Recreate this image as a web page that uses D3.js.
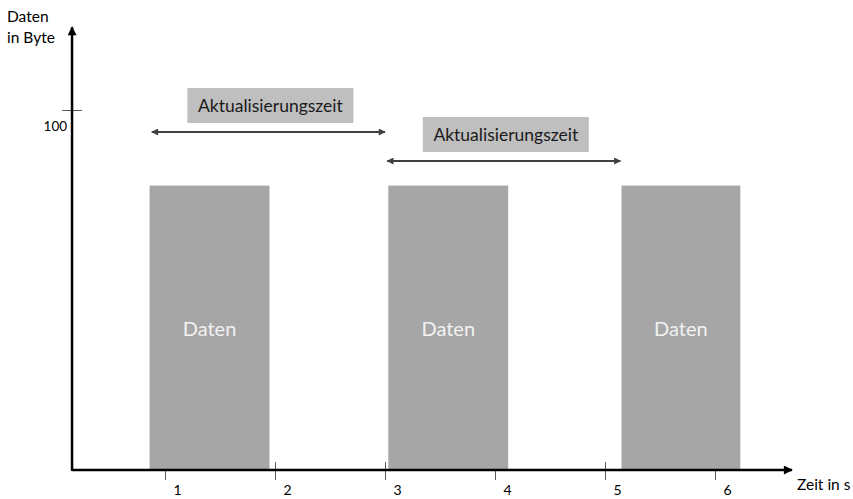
<!DOCTYPE html>
<html>
<head>
<meta charset="utf-8">
<script src="https://cdn.jsdelivr.net/npm/d3@7"></script>
<style>
  body { margin: 0; background: #fff; }
  svg { display: block; font-family: Lato, "Open Sans", sans-serif; }
</style>
</head>
<body>
<svg id="chart" width="853" height="499"></svg>
<script>
// data
var barStart = [0.86, 3.03, 5.15],
  barEnd = [1.95, 4.12, 6.23],
  barValue = [79, 79, 79],
  barLabel = ["Daten", "Daten", "Daten"],
  xTicks = [1, 2, 3, 4, 5, 6],
  crossTicks = [2, 3, 5],
  yTicks = [100],
  spanFrom = [0.88, 3.02],
  spanTo = [3.0, 5.14],
  spanLabel = ["Aktualisierungszeit", "Aktualisierungszeit"],
  xAxisLabel = "Zeit in s",
  yAxisLabel = ["Daten", "in Byte"];

var svg = d3.select("#chart"),
  x = d3.scaleLinear().domain([0, 7]).range([55, 825]),
  y = d3.scaleLinear().domain([0, 100]).range([470, 110]),
  xLo = 0.155, xHi = 6.7, yHi = 123;

var defs = svg.append("defs");
function marker(id, color, w, h, reverse) {
  defs.append("marker")
    .attr("id", id)
    .attr("viewBox", "0 0 10 10")
    .attr("refX", reverse ? 1 : 9).attr("refY", 5)
    .attr("markerWidth", w).attr("markerHeight", h)
    .attr("markerUnits", "userSpaceOnUse")
    .attr("orient", "auto")
    .append("path")
      .attr("d", reverse ? "M10,0L0,5L10,10z" : "M0,0L10,5L0,10z")
      .attr("fill", color);
}
marker("axisHead", "#000", 10, 9, false);
marker("spanEnd", "#404040", 8, 7, false);
marker("spanStart", "#404040", 8, 7, true);

// bars
var bars = svg.append("g").attr("class", "bars");
bars.selectAll("rect")
  .data(barStart)
  .enter().append("rect")
    .attr("x", function(d) { return x(d); })
    .attr("y", function(d, i) { return y(barValue[i]); })
    .attr("width", function(d, i) { return x(barEnd[i]) - x(d); })
    .attr("height", function(d, i) { return y(0) - y(barValue[i]); })
    .attr("fill", "#a6a6a6");

bars.selectAll("text")
  .data(barStart)
  .enter().append("text")
    .attr("x", function(d, i) { return (x(d) + x(barEnd[i])) / 2; })
    .attr("y", function(d, i) { return (y(barValue[i]) + y(0)) / 2 + 1; })
    .attr("dy", "0.35em")
    .attr("text-anchor", "middle")
    .attr("fill", "#f2f2f2")
    .attr("font-size", 20)
    .text(function(d, i) { return barLabel[i]; });

// x axis
var xAxisG = svg.append("g")
  .attr("transform", "translate(0," + y(0) + ")")
  .call(d3.axisBottom(x).tickValues(xTicks).tickSize(10).tickSizeOuter(0).tickFormat(d3.format("d")));
xAxisG.select(".domain").remove();
xAxisG.selectAll(".tick line")
  .attr("stroke", "#595959")
  .attr("stroke-width", 1)
  .attr("y1", function(d) { return crossTicks.indexOf(d) >= 0 ? -8 : 0; });
xAxisG.selectAll(".tick text")
  .attr("dx", 12)
  .attr("y", 15)
  .attr("font-size", 14)
  .attr("font-family", "Lato, 'Open Sans', sans-serif")
  .attr("fill", "#000");

svg.append("line")
  .attr("x1", x(xLo)).attr("x2", x(xHi))
  .attr("y1", y(0)).attr("y2", y(0))
  .attr("stroke", "#000").attr("stroke-width", 2.5)
  .attr("marker-end", "url(#axisHead)");

svg.append("text")
  .attr("x", 797).attr("y", y(0) + 15)
  .attr("dy", "0.35em")
  .attr("font-size", 15.5)
  .text(xAxisLabel);

// y axis
var yAxisG = svg.append("g")
  .attr("transform", "translate(" + (x(xLo) + 10) + ",0)")
  .call(d3.axisLeft(y).tickValues(yTicks).tickSize(20).tickSizeOuter(0));
yAxisG.select(".domain").remove();
yAxisG.selectAll(".tick line").attr("stroke", "#595959").attr("stroke-width", 1);
yAxisG.selectAll(".tick text")
  .attr("x", -15)
  .attr("dy", "1.5em")
  .attr("font-size", 13.5)
  .attr("font-family", "Lato, 'Open Sans', sans-serif")
  .attr("fill", "#000");

svg.append("line")
  .attr("x1", x(xLo)).attr("x2", x(xLo))
  .attr("y1", y(0) + 1).attr("y2", y(yHi))
  .attr("stroke", "#000").attr("stroke-width", 2.5)
  .attr("marker-end", "url(#axisHead)");

svg.append("text")
  .attr("font-size", 15.5)
  .selectAll("tspan")
  .data(yAxisLabel)
  .enter().append("tspan")
    .attr("x", 7)
    .attr("y", function(d, i) { return 22 + i * 21; })
    .text(function(d) { return d; });

// update-interval spans
var spanY = [132, 161];
var spans = svg.append("g").attr("class", "spans");
spanFrom.forEach(function(d, i) {
  var g = spans.append("g"),
    mid = (x(d) + x(spanTo[i])) / 2 + 2;
  g.append("line")
    .attr("x1", x(d)).attr("x2", x(spanTo[i]))
    .attr("y1", spanY[i]).attr("y2", spanY[i])
    .attr("stroke", "#404040").attr("stroke-width", 2)
    .attr("marker-start", "url(#spanStart)")
    .attr("marker-end", "url(#spanEnd)");
  g.append("rect")
    .attr("x", mid - 83).attr("y", spanY[i] - 44)
    .attr("width", 166).attr("height", 35)
    .attr("fill", "#bfbfbf");
  g.append("text")
    .attr("x", mid).attr("y", spanY[i] - 26)
    .attr("dy", "0.35em")
    .attr("text-anchor", "middle")
    .attr("font-size", 17.5)
    .attr("fill", "#1a1a1a")
    .text(spanLabel[i]);
});
</script>
</body>
</html>
